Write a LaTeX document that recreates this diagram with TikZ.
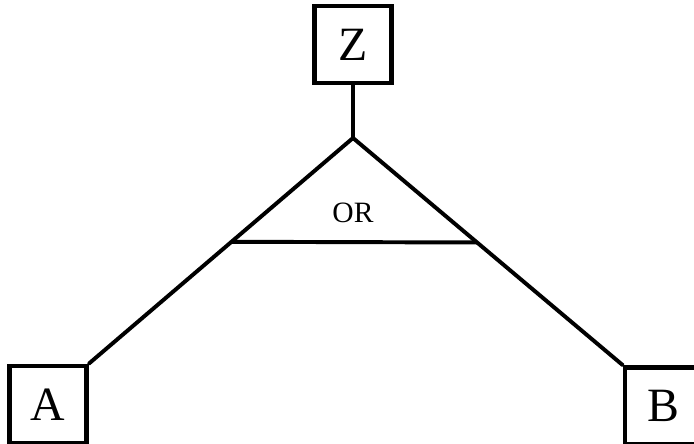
\documentclass[tikz,border=0pt]{standalone}
\usepackage{fontspec}
\setmainfont{Liberation Serif}
\usetikzlibrary{positioning, calc}

\begin{document}
\begin{tikzpicture}[
    x=0.025cm, y=-0.025cm,
    %% Styles
    event/.style={
      rectangle, draw, line width=3.2pt,
      minimum width=1.93cm, minimum height=1.93cm,
      inner sep=0pt, text centered,
      font=\fontsize{34}{38}\selectfont
    },
    wire/.style={line width=2.8pt, line cap=round, line join=round},
    gatelbl/.style={font=\fontsize{21}{24}\selectfont}
  ]
  \useasboundingbox (0,0) rectangle (694,444);

  %% ── Top event ──────────────────────────────────────
  \node[event] (Z) at (353,44.5) {Z};

  %% ── OR gate ────────────────────────────────────────
  \coordinate (apex) at (353,138);
  \node[gatelbl] (orlbl) at (353,213) {OR};

  %% ── Basic events ───────────────────────────────────
  \node[event] (A) at (48,404.5) {A};
  \node[event, minimum width=2.3cm, text width=1.2cm, align=left] (B) at (671,406) {B};

  %% ── Connectors ─────────────────────────────────────
  \draw[wire] (Z.south) -- (apex);
  \draw[wire] (apex) -- (A.north east);
  \draw[wire] (apex) -- (B.north west);

  % gate base
  \draw[wire] ($(apex)!0.46!(A.north east)$) -- ($(apex)!0.46!(B.north west)$);

\end{tikzpicture}
\end{document}
